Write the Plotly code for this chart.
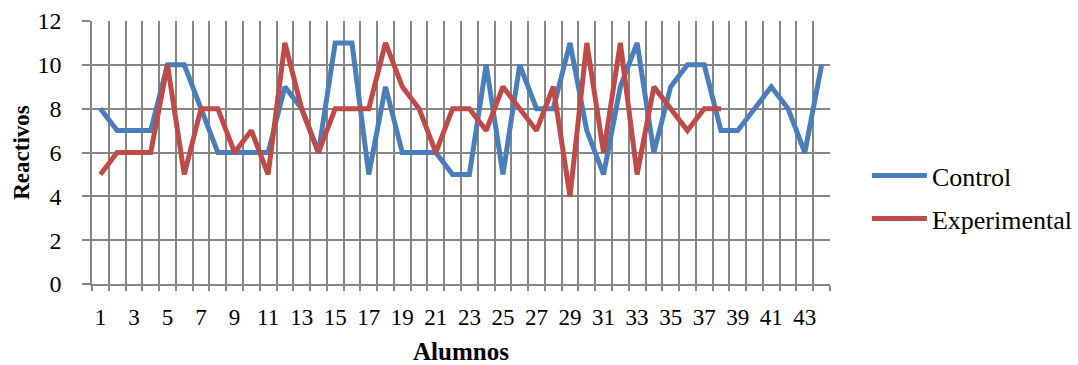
import plotly.graph_objects as go

alumnos = list(range(1, 45))
control = [8, 7, 7, 7, 10, 10, 8, 6, 6, 6, 6, 9, 8, 6, 11, 11, 5, 9, 6, 6, 6, 5,
           5, 10, 5, 10, 8, 8, 11, 7, 5, 9, 11, 6, 9, 10, 10, 7, 7, 8, 9, 8, 6, 10]
experimental = [5, 6, 6, 6, 10, 5, 8, 8, 6, 7, 5, 11, 8, 6, 8, 8, 8, 11, 9, 8, 6, 8,
                8, 7, 9, 8, 7, 9, 4, 11, 6, 11, 5, 9, 8, 7, 8, 8]
x_ticks = list(range(1, 44, 2))
y_ticks = list(range(0, 13, 2))

FONT = "Liberation Serif"
GRID = "#868686"

fig = go.Figure()
fig.add_trace(go.Scatter(x=alumnos[:len(control)], y=control, mode="lines", name="Control",
                         legendgroup="c", line=dict(color="#4A7EBB", width=5)))
fig.add_trace(go.Scatter(x=alumnos[:len(experimental)], y=experimental, mode="lines",
                         name="Experimental", legendgroup="e",
                         line=dict(color="#BE4B48", width=5)))

bounds = [i + 0.5 for i in range(0, 45)]
fig.update_xaxes(range=[0.5, 44.5], tickmode="array", tickvals=x_ticks,
                 ticktext=[str(t) for t in x_ticks], showgrid=False, zeroline=False,
                 showline=True, linecolor=GRID, linewidth=1.5, automargin=False,
                 tickfont=dict(family=FONT, size=23, color="black"),
                 ticks="", ticklabelstandoff=12,
                 minor=dict(tickmode="array", tickvals=bounds, showgrid=True,
                            gridcolor=GRID, gridwidth=1.5, ticks="outside",
                            ticklen=5, tickcolor=GRID, tickwidth=1.5),
                 title=dict(text="<b>Alumnos</b>", font=dict(family=FONT, size=25, color="black"),
                            standoff=16))
fig.update_yaxes(range=[0, 12], tickmode="array", tickvals=y_ticks,
                 showgrid=True, gridcolor=GRID, gridwidth=1.5, zeroline=False,
                 showline=True, linecolor=GRID, linewidth=1.5, automargin=False,
                 ticks="outside", ticklen=8, tickcolor=GRID, tickwidth=1.5,
                 ticklabelstandoff=16,
                 tickfont=dict(family=FONT, size=24, color="black"),
                 title=dict(text="<b>Reactivos</b>", font=dict(family=FONT, size=23, color="black"),
                            standoff=1))
fig.update_layout(
    width=1078, height=365,
    margin=dict(l=92, r=248, t=21, b=81, autoexpand=False),
    paper_bgcolor="white", plot_bgcolor="white",
    font=dict(family=FONT, color="black"),
    legend=dict(x=1.05, y=0.33, xanchor="left", yanchor="middle",
                font=dict(family=FONT, size=26, color="black"),
                traceorder="grouped", tracegroupgap=6, itemwidth=55),
)
fig.write_html("out.html")
